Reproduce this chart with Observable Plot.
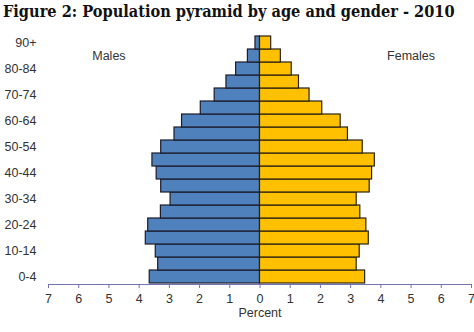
<!DOCTYPE html>
<html>
<head>
<meta charset="utf-8">
<script src="https://cdn.jsdelivr.net/npm/d3@7"></script>
<script src="https://cdn.jsdelivr.net/npm/@observablehq/plot@0.6"></script>
<style>
  html, body { margin: 0; padding: 0; background: #fff; }
  #title {
    font-family: "DejaVu Serif Condensed", "DejaVu Serif", serif;
    font-stretch: condensed;
    font-weight: bold;
    font-size: 16.2px;
    line-height: 24px;
    height: 24px;
    padding-left: 3px;
    color: #111;
    white-space: nowrap;
  }
</style>
</head>
<body>
<div id="title">Figure 2: Population pyramid by age and gender - 2010</div>
<div id="chart"></div>
<script>
// Age groups, youngest first
const ageGroups = ["0-4","5-9","10-14","15-19","20-24","25-29","30-34","35-39","40-44","45-49",
                   "50-54","55-59","60-64","65-69","70-74","75-79","80-84","85-89","90+"];
// Share of total population (%) by age group
const malePct   = [3.65, 3.37, 3.45, 3.78, 3.70, 3.28, 2.96, 3.27, 3.42, 3.56,
                   3.27, 2.83, 2.58, 1.96, 1.50, 1.11, 0.79, 0.40, 0.15];
const femalePct = [3.48, 3.20, 3.30, 3.60, 3.52, 3.32, 3.20, 3.63, 3.71, 3.80,
                   3.40, 2.91, 2.67, 2.06, 1.64, 1.29, 1.05, 0.69, 0.37];
const shownAgeTicks = ["0-4","10-14","20-24","30-34","40-44","50-54","60-64","70-74","80-84","90+"];
const percentTicks = [-7,-6,-5,-4,-3,-2,-1,0,1,2,3,4,5,6,7];
const sideLabels = [{label: "Males", x: -5, age: "85-89"}, {label: "Females", x: 5, age: "85-89"}];

const rows = ageGroups.map((age, i) => ({age, male: malePct[i], female: femalePct[i]}));

const axisColor = "#7272b4";

const chart = Plot.plot({
  width: 474,
  height: 308,
  marginTop: 10,
  marginBottom: 48,
  marginLeft: 48,
  marginRight: 3,
  style: {fontFamily: "'Liberation Sans', Arial, sans-serif", fontSize: "12px", color: "#333", background: "#fff"},
  x: {domain: [-7, 7]},
  y: {domain: ageGroups.slice().reverse(), padding: 0},
  marks: [
    Plot.barX(rows, {y: "age", x1: 0, x2: d => -d.male, fill: "#4f81bd", stroke: "#1b1b2a", strokeWidth: 1.2}),
    Plot.barX(rows, {y: "age", x1: 0, x2: "female", fill: "#ffc000", stroke: "#2a2210", strokeWidth: 1.2}),
    Plot.axisY({ticks: shownAgeTicks, tickSize: 0, tickPadding: 12, label: null, fontSize: "12.5px"}),
    Plot.frame({anchor: "bottom", stroke: axisColor, strokeWidth: 1.2}),
    Plot.axisX({ticks: percentTicks, tickFormat: d => Math.abs(d), tickSize: 4, stroke: axisColor,
                tickPadding: 6, label: null, fontSize: "12.5px"}),
    // axis title below the tick labels
    Plot.text(["Percent"], {frameAnchor: "bottom", dy: 32, fontSize: 12.5, fill: "#333"}),
    Plot.text(sideLabels, {x: "x", y: "age", text: "label", fontSize: 12.5, fill: "#333"})
  ]
});
document.getElementById("chart").appendChild(chart);
</script>
</body>
</html>
